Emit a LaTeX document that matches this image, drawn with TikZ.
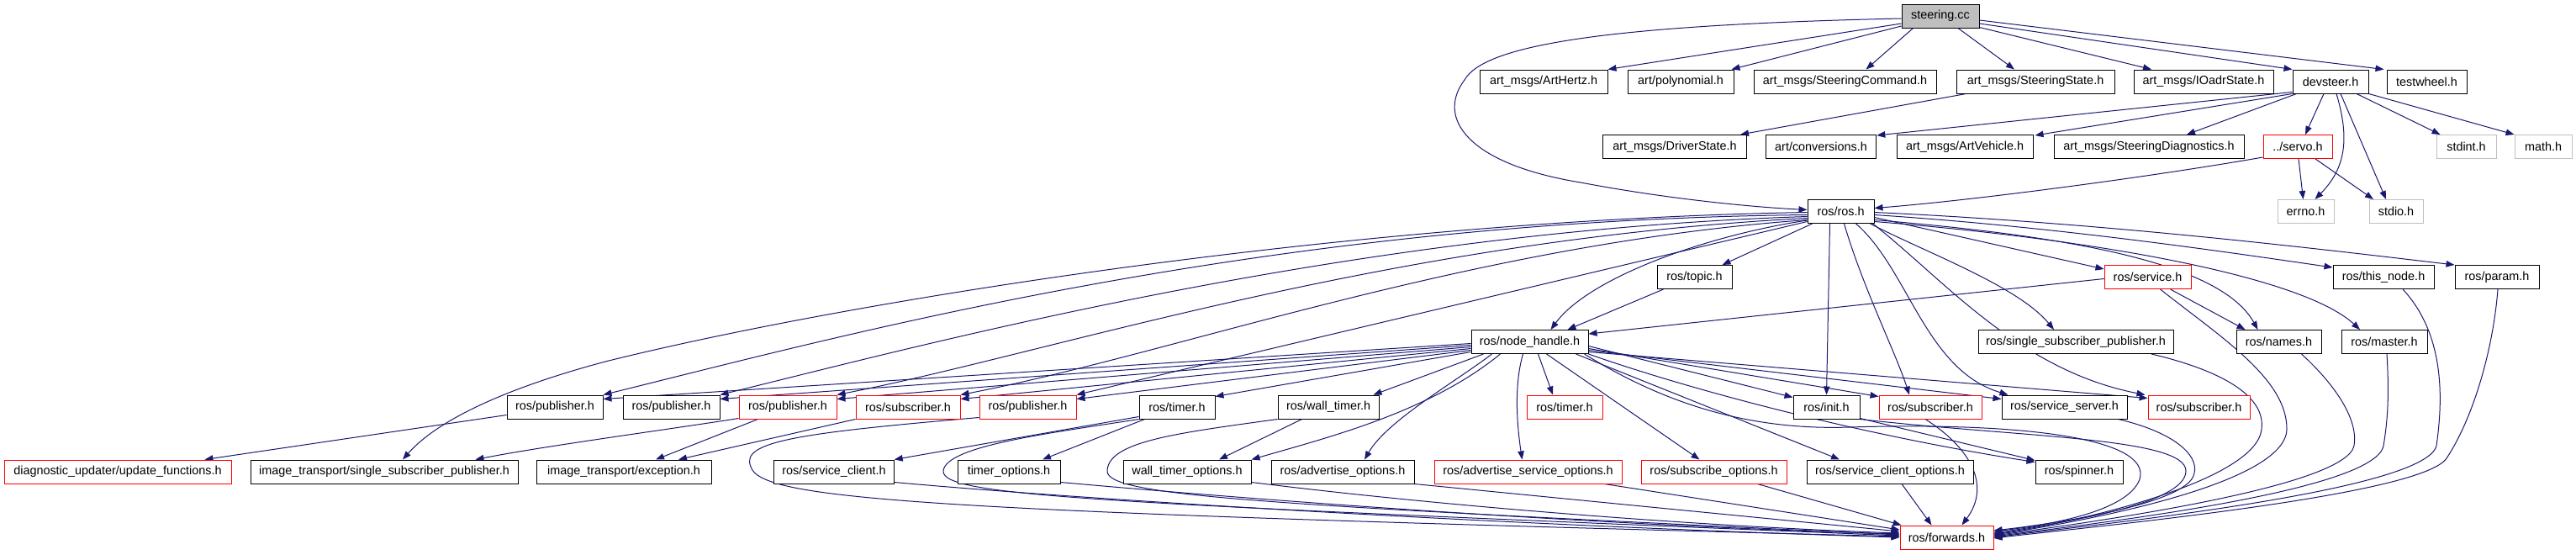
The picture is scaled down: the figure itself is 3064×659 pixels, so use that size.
\documentclass[tikz,border=0pt]{standalone}
\usepackage{fontspec}
\setmainfont{Liberation Sans}
\usetikzlibrary{arrows.meta,calc}
\definecolor{edgec}{RGB}{25,25,112}
\definecolor{redb}{RGB}{255,0,0}
\definecolor{grayb}{RGB}{191,191,191}
\newcommand\nfont{\fontsize{14.4}{17}\selectfont}
\pgfdeclarelayer{bg}
\pgfsetlayers{bg,main}
\begin{document}
\begin{tikzpicture}[x=1pt,y=-1pt,
  box/.style={draw=black,line width=1.0pt,fill=white,minimum height=28pt,inner sep=0pt,font=\nfont},
  rbox/.style={box,draw=redb},
  gbox/.style={box,draw=grayb},
  rootbox/.style={box,fill=grayb},
  e/.style={draw=edgec,line width=1.0pt,-{Triangle[length=10pt,width=7.5pt]}},
]
\useasboundingbox (0,0) rectangle (3064,659);
% row 1
\node[rootbox,minimum width=92pt] (st) at (2308,19) {steering.cc};
% row 2
\node[box,minimum width=152pt] (hz) at (1836,97) {art\_msgs/ArtHertz.h};
\node[box,minimum width=126pt] (poly) at (1999,97) {art/polynomial.h};
\node[box,minimum width=217pt] (scmd) at (2194.5,97) {art\_msgs/SteeringCommand.h};
\node[box,minimum width=188pt] (sst) at (2421,97) {art\_msgs/SteeringState.h};
\node[box,minimum width=166pt] (ioadr) at (2621,97) {art\_msgs/IOadrState.h};
\node[box,minimum width=90pt] (dev) at (2772,97) {devsteer.h};
\node[box,minimum width=95pt] (tw) at (2886.5,97) {testwheel.h};
% row 3
\node[box,minimum width=171pt] (drv) at (1992,174.5) {art\_msgs/DriverState.h};
\node[box,minimum width=131.5pt] (conv) at (2166,174.5) {art/conversions.h};
\node[box,minimum width=162pt] (veh) at (2337,174.5) {art\_msgs/ArtVehicle.h};
\node[box,minimum width=226pt] (sdiag) at (2556,174.5) {art\_msgs/SteeringDiagnostics.h};
\node[rbox,minimum width=82pt] (servo) at (2733,174.5) {../servo.h};
\node[gbox,minimum width=71pt] (sint) at (2933.5,174.5) {stdint.h};
\node[gbox,minimum width=68pt] (mth) at (3025,174.5) {math.h};
% row 4
\node[box,minimum width=79pt] (ros) at (2189.5,251.5) {ros/ros.h};
\node[gbox,minimum width=67pt] (errno) at (2742.5,251.5) {errno.h};
\node[gbox,minimum width=64pt] (stdio) at (2850,251.5) {stdio.h};
% row 5
\node[box,minimum width=89pt] (topic) at (2015.5,329.5) {ros/topic.h};
\node[rbox,minimum width=103pt] (srv) at (2554.5,329.5) {ros/service.h};
\node[box,minimum width=120pt] (thn) at (2835,329.5) {ros/this\_node.h};
\node[box,minimum width=100pt] (param) at (2970,329.5) {ros/param.h};
% row 6
\node[box,minimum width=139pt] (nh) at (1819.5,406.5) {ros/node\_handle.h};
\node[box,minimum width=232pt] (rssp) at (2469,406.5) {ros/single\_subscriber\_publisher.h};
\node[box,minimum width=101pt] (names) at (2710.5,406.5) {ros/names.h};
\node[box,minimum width=102pt] (master) at (2836,406.5) {ros/master.h};
% row 7
\node[box,minimum width=114pt] (pub1) at (660,484) {ros/publisher.h};
\node[box,minimum width=115pt] (pub2) at (798.5,484) {ros/publisher.h};
\node[rbox,minimum width=116pt] (rpub1) at (937,484) {ros/publisher.h};
\node[rbox,minimum width=124pt] (rsub1) at (1080,484) {ros/subscriber.h};
\node[rbox,minimum width=115pt] (rpub2) at (1222.5,484) {ros/publisher.h};
\node[box,minimum width=90pt] (tmr) at (1400,484) {ros/timer.h};
\node[box,minimum width=120pt] (wtmr) at (1580,484) {ros/wall\_timer.h};
\node[rbox,minimum width=90pt] (rtmr) at (1861,484) {ros/timer.h};
\node[box,minimum width=79pt] (init) at (2172.5,484) {ros/init.h};
\node[rbox,minimum width=122pt] (rsub2) at (2296,484) {ros/subscriber.h};
\node[box,minimum width=149pt] (ssrv) at (2455.5,484) {ros/service\_server.h};
\node[rbox,minimum width=121pt] (rsub3) at (2615.5,484) {ros/subscriber.h};
% row 8
\node[rbox,minimum width=270pt] (diag) at (140,561) {diagnostic\_updater/update\_functions.h};
\node[box,minimum width=318pt] (itssp) at (457,561) {image\_transport/single\_subscriber\_publisher.h};
\node[box,minimum width=208pt] (itexc) at (742,561) {image\_transport/exception.h};
\node[box,minimum width=142.5pt] (sclient) at (992,561) {ros/service\_client.h};
\node[box,minimum width=122pt] (topt) at (1200,561) {timer\_options.h};
\node[box,minimum width=152pt] (wtopt) at (1412,561) {wall\_timer\_options.h};
\node[box,minimum width=170pt] (aopt) at (1597,561) {ros/advertise\_options.h};
\node[rbox,minimum width=223pt] (asopt) at (1817.5,561) {ros/advertise\_service\_options.h};
\node[rbox,minimum width=173pt] (sopt) at (2038.5,561) {ros/subscribe\_options.h};
\node[box,minimum width=198pt] (scopt) at (2248,561) {ros/service\_client\_options.h};
\node[box,minimum width=104pt] (spin) at (2473,561) {ros/spinner.h};
% row 9
\node[rbox,minimum width=111pt] (fw) at (2315.5,639) {ros/forwards.h};

\begin{pgfonlayer}{bg}
% steering.cc
\draw[e] ($(st.west)+(0,9)$) -- (hz.north east);
\draw[e] ($(st.west)+(0,12)$) -- ($(poly.north east)+(-3,0)$);
\draw[e] ($(st.south west)+(14,0)$) -- ($(scmd.north)+(25,0)$);
\draw[e] ($(st.south)+(21,0)$) -- ($(sst.north)+(-25,0)$);
\draw[e] ($(st.south east)+(0,-1)$) -- ($(ioadr.north)+(-62,0)$);
\draw[e] ($(st.east)+(0,9)$) -- (dev.north west);
\draw[e] ($(st.east)+(0,5)$) -- ($(tw.north west)+(-3,0)$);
\draw[e] ($(st.west)+(0,3)$) .. controls (1900,30) and (1765,55) .. (1742,95) .. controls (1708,140) and (1745,195) .. (1880,217) .. controls (1980,236) and (2080,246) .. ($(ros.west)+(0,-2)$);
\draw[e] ($(sst.south west)+(12,0)$) -- ($(drv.north east)+(-8,0)$);
% devsteer
\draw[e] ($(dev.south west)+(0,-2)$) -- ($(conv.north east)+(0,1)$);
\draw[e] (dev.south west) -- ($(veh.north east)+(2,1)$);
\draw[e] ($(dev.south west)+(5,0)$) -- ($(sdiag.north)+(45,0)$);
\draw[e] ($(dev.south)+(-8,0)$) -- ($(servo.north)+(9,0)$);
\draw[e] ($(dev.south)+(7,0)$) .. controls (2795,165) and (2790,200) .. ($(errno.north)+(11,0)$);
\draw[e] ($(dev.south)+(12,0)$) -- ($(stdio.north)+(-12,0)$);
\draw[e] ($(dev.south)+(31,0)$) -- ($(sint.north)+(-31,0)$);
\draw[e] (dev.south east) -- (mth.north west);
% servo
\draw[e] ($(servo.south)+(1,0)$) -- ($(errno.north)+(-3,0)$);
\draw[e] ($(servo.south)+(21,0)$) -- ($(stdio.north)+(-27,0)$);
\draw[e] ($(servo.south west)+(0,-2)$) .. controls (2560,210) and (2350,238) .. ($(ros.east)+(0,-4)$);
% ros.h
\draw[e] ($(ros.south west)+(6,0)$) -- ($(topic.north)+(33,0)$);
\draw[e] ($(ros.south west)+(0,-4)$) .. controls (2030,280) and (1890,330) .. ($(nh.north)+(25,0)$);
\draw[e] ($(ros.east)+(0,7)$) -- ($(srv.north west)+(0,5)$);
\draw[e] ($(ros.east)+(0,4)$) .. controls (2450,270) and (2650,300) .. ($(thn.north west)+(0,3)$);
\draw[e] ($(ros.east)+(0,1)$) .. controls (2500,265) and (2750,295) .. (param.north west);
\draw[e] ($(ros.east)+(0,10)$) .. controls (2450,280) and (2640,310) .. ($(names.north)+(-25,0)$);
\draw[e] ($(ros.east)+(0,12)$) .. controls (2500,285) and (2740,330) .. ($(master.north)+(-29,0)$);
\draw[e] ($(ros.south east)+(-5,0)$) .. controls (2290,300) and (2400,340) .. ($(rssp.north)+(-26,0)$);
\draw[e] ($(ros.south)+(-13,0)$) -- (init.north);
\draw[e] ($(ros.south)+(4,0)$) .. controls (2215,340) and (2255,420) .. ($(rsub2.north)+(-25,0)$);
\draw[e] ($(ros.south)+(18,0)$) .. controls (2270,320) and (2290,440) .. ($(ssrv.north west)+(8,0)$);
\draw[e] ($(ros.south east)+(-2,0)$) .. controls (2310,330) and (2400,440) .. ($(rsub3.north west)+(-3,0)$);
\draw[e] ($(ros.west)+(0,1)$) .. controls (1600,262) and (1000,360) .. (720,430) .. controls (600,462) and (520,500) .. ($(itssp.north)+(22,0)$);
\draw[e] ($(ros.west)+(0,4)$) .. controls (1500,262) and (1000,400) .. (pub1.north east);
\draw[e] ($(ros.west)+(0,6)$) .. controls (1600,275) and (1100,410) .. (pub2.north east);
\draw[e] ($(ros.west)+(0,8)$) .. controls (1650,285) and (1250,420) .. (rpub1.north east);
\draw[e] ($(ros.west)+(0,10)$) .. controls (1750,290) and (1400,420) .. (rsub1.north east);
\draw[e] ($(ros.west)+(0,12)$) -- (rpub2.north east);
% topic, service
\draw[e] ($(topic.south west)+(8,0)$) -- ($(nh.north)+(45,0)$);
\draw[e] ($(srv.west)+(0,2)$) -- ($(nh.north east)+(0,5)$);
\draw[e] ($(srv.south east)+(-25,0)$) -- ($(names.north)+(-40,0)$);
% node_handle
\draw[e] ($(nh.west)+(0,2)$) -- ($(pub1.north east)+(0,5)$);
\draw[e] ($(nh.west)+(0,4)$) -- ($(pub2.north east)+(0,5)$);
\draw[e] ($(nh.west)+(0,6)$) -- ($(rpub1.north east)+(0,5)$);
\draw[e] ($(nh.west)+(0,8)$) -- ($(rsub1.north east)+(0,5)$);
\draw[e] ($(nh.west)+(0,10)$) -- ($(rpub2.north east)+(0,5)$);
\draw[e] ($(nh.west)+(0,12)$) -- ($(tmr.north east)+(0,2)$);
\draw[e] ($(nh.south west)+(15,0)$) -- ($(wtmr.north east)+(-7,0)$);
\draw[e] ($(nh.south)+(10,0)$) -- ($(rtmr.north)+(-14,0)$);
\draw[e] ($(nh.south west)+(25,0)$) .. controls (1730,455) and (1650,500) .. ($(aopt.north)+(26,0)$);
\draw[e] ($(nh.south)+(-8,0)$) .. controls (1800,460) and (1805,510) .. ($(asopt.north)+(-7,0)$);
\draw[e] ($(nh.south)+(20,0)$) -- ($(sopt.north)+(-17,0)$);
\draw[e] ($(nh.south east)+(-15,0)$) -- ($(scopt.north)+(-60,0)$);
\draw[e] ($(nh.east)+(0,5)$) -- ($(init.north west)+(0,3)$);
\draw[e] ($(nh.east)+(0,8)$) -- ($(rsub2.north west)+(0,2)$);
\draw[e] ($(nh.east)+(0,10)$) -- ($(ssrv.north west)+(0,5)$);
\draw[e] ($(nh.east)+(0,12)$) -- ($(rsub3.north west)+(0,4)$);
\draw[e] (nh.south east) .. controls (2000,460) and (2200,515) .. ($(spin.north west)+(0,3)$);
\draw[e] ($(nh.south west)+(35,0)$) .. controls (1700,490) and (1580,520) .. (wtopt.north east);
\draw[e] ($(nh.south east)+(-5,0)$) .. controls (1980,480) and (2080,512) .. (2200,508) .. controls (2400,502) and (2560,520) .. (2545,570) .. controls (2530,610) and (2430,625) .. ($(fw.east)+(0,-7)$);
% row 7 outgoing
\draw[e] ($(pub1.south west)+(0,-5)$) -- ($(diag.north east)+(-32,0)$);
\draw[e] ($(rpub1.south west)+(0,-1)$) .. controls (800,510) and (650,530) .. ($(itssp.north east)+(-51,0)$);
\draw[e] ($(rpub1.south west)+(23,0)$) -- ($(itexc.north)+(38,0)$);
\draw[e] (rsub1.south west) -- ($(itexc.north)+(65,0)$);
\draw[e] ($(tmr.south west)+(0,-3)$) -- (sclient.north east);
\draw[e] ($(tmr.south west)+(7,0)$) -- ($(topt.north)+(40,0)$);
\draw[e] ($(wtmr.south west)+(29,0)$) -- ($(wtopt.north)+(38,0)$);
\draw[e] ($(rpub2.south west)+(0,-2)$) .. controls (950,515) and (880,525) .. (893,555) .. controls (905,595) and (1100,608) .. ($(fw.west)+(0,-1)$);
\draw[e] (tmr.south west) .. controls (1250,515) and (1125,530) .. (1122,560) .. controls (1120,590) and (1300,598) .. ($(fw.west)+(0,-2)$);
\draw[e] (wtmr.south west) .. controls (1400,515) and (1318,525) .. (1317,560) .. controls (1316,590) and (1500,600) .. ($(fw.west)+(0,-3)$);
\draw[e] ($(init.south east)+(0,-1)$) -- ($(spin.north west)+(0,1)$);
\draw[e] (init.south east) .. controls (2400,520) and (2600,520) .. (2600,560) .. controls (2600,600) and (2450,622) .. ($(fw.east)+(0,-5)$);
\draw[e] ($(rsub2.south)+(-6,0)$) .. controls (2340,530) and (2370,575) .. ($(fw.north)+(18,0)$);
\draw[e] ($(ssrv.south)+(64,0)$) .. controls (2590,515) and (2620,545) .. (2608,568) .. controls (2590,600) and (2450,622) .. ($(fw.east)+(0,-8)$);
% row 8 to forwards
\draw[e] ($(sclient.south east)+(0,-2)$) .. controls (1300,595) and (1800,625) .. ($(fw.west)+(0,0)$);
\draw[e] ($(topt.south east)+(0,-2)$) .. controls (1500,595) and (1900,625) .. ($(fw.west)+(0,-4)$);
\draw[e] ($(wtopt.south east)+(0,-2)$) .. controls (1700,600) and (2000,625) .. ($(fw.west)+(0,-5)$);
\draw[e] (aopt.south east) -- ($(fw.west)+(0,-7)$);
\draw[e] ($(asopt.south east)+(-21,0)$) -- ($(fw.west)+(0,-9)$);
\draw[e] ($(sopt.south east)+(-35,0)$) -- ($(fw.north west)+(2,0)$);
\draw[e] ($(scopt.south)+(14,0)$) -- ($(fw.north)+(-18,0)$);
% right side to forwards
\draw[e] ($(rssp.south)+(90,0)$) .. controls (2640,440) and (2695,470) .. (2690,510) .. controls (2685,570) and (2480,620) .. ($(fw.east)+(0,-4)$);
\draw[e] ($(srv.south)+(15,0)$) .. controls (2640,400) and (2720,450) .. (2720,510) .. controls (2720,575) and (2480,620) .. ($(fw.east)+(0,-3)$);
\draw[e] ($(names.south)+(27,0)$) .. controls (2780,460) and (2805,500) .. (2800,530) .. controls (2790,580) and (2480,622) .. ($(fw.east)+(0,-2)$);
\draw[e] ($(master.south)+(3,0)$) .. controls (2842,470) and (2840,500) .. (2835,530) .. controls (2825,585) and (2480,624) .. ($(fw.east)+(0,-1)$);
\draw[e] ($(thn.south)+(23,0)$) .. controls (2910,400) and (2905,480) .. (2898,530) .. controls (2885,585) and (2480,625) .. (fw.east);
\draw[e] ($(param.south)+(1,0)$) .. controls (2965,420) and (2940,500) .. (2910,545) .. controls (2880,590) and (2480,627) .. ($(fw.east)+(0,1)$);
\end{pgfonlayer}
\end{tikzpicture}
\end{document}
